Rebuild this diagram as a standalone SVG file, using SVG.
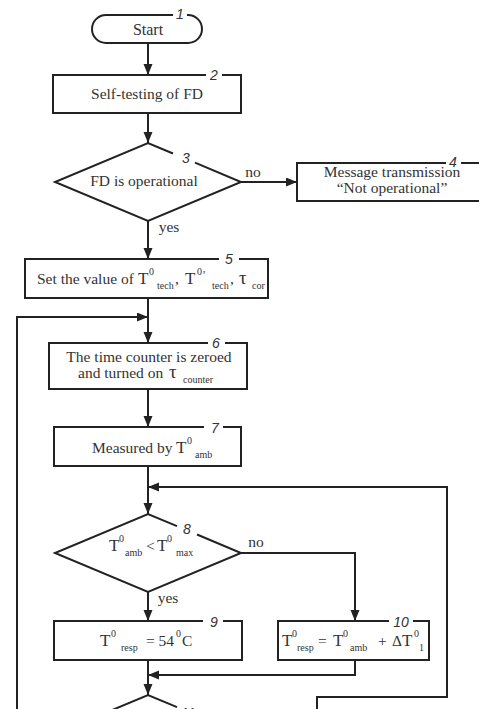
<svg xmlns="http://www.w3.org/2000/svg" width="479" height="709" viewBox="0 0 479 709">
<defs>
<style>
.ln{fill:none;stroke:#222;stroke-width:2}
.t{font-family:"Liberation Serif","Times New Roman",serif;font-size:15.5px;fill:#333}
.m{text-anchor:middle}
.n{font-family:"Liberation Sans",Arial,sans-serif;font-style:italic;font-size:14px;fill:#333;text-anchor:middle}
.b{font-size:17px}
.g{font-size:19px}
.s{font-size:10px}
</style>
<marker id="ah" markerWidth="12" markerHeight="10" refX="11" refY="4.5" orient="auto" markerUnits="userSpaceOnUse"><path d="M0,0 L11,4.5 L0,9 Z" fill="#222"/></marker>
</defs>
<rect width="479" height="709" fill="#fff"/>
<g id="connectors">
<path class="ln" d="M148,43 V75" marker-end="url(#ah)"/>
<path class="ln" d="M148,113 V143" marker-end="url(#ah)"/>
<path class="ln" d="M241,182 H297" marker-end="url(#ah)"/>
<path class="ln" d="M148,221 V259" marker-end="url(#ah)"/>
<path class="ln" d="M148,298 V343" marker-end="url(#ah)"/>
<path class="ln" d="M17,709 V317 H148" marker-end="url(#ah)"/>
<path class="ln" d="M148,389 V427" marker-end="url(#ah)"/>
<path class="ln" d="M148,466 V514" marker-end="url(#ah)"/>
<path class="ln" d="M317,709 V697 H447 V487 H148" marker-end="url(#ah)"/>
<path class="ln" d="M241,553 H355 V621" marker-end="url(#ah)"/>
<path class="ln" d="M148,592 V621" marker-end="url(#ah)"/>
<path class="ln" d="M355,660 V675 H148" marker-end="url(#ah)"/>
<path class="ln" d="M148,660 V695" marker-end="url(#ah)"/>
<text class="t m" x="253" y="177">no</text>
<text class="t m" x="169" y="232">yes</text>
<text class="t m" x="256" y="547">no</text>
<text class="t m" x="168" y="603">yes</text>
</g>
<g id="node1">
<path class="ln" d="M173,15 H106 A14,14 0 0 0 106,43 H188 A14,14 0 0 0 188,15 H187"/>
<text class="t m" x="148" y="35" style="font-size:16px">Start</text>
<text class="n" x="180" y="19">1</text>
</g>
<g id="node2">
<path class="ln" d="M206,75 H53 V113 H241 V75 H222"/>
<text class="t m" x="147" y="99">Self-testing of FD</text>
<text class="n" x="214" y="80">2</text>
</g>
<g id="node3">
<path class="ln" d="M173,153.5 L148,143 L55,182 L148,221 L241,182 L195,162.7"/>
<text class="t m" x="144" y="186">FD is operational</text>
<text class="n" x="186" y="163">3</text>
</g>
<g id="node4">
<path class="ln" d="M446,163 H297 V201 H485 M461,163 H485"/>
<text class="t m" x="392" y="177">Message transmission</text>
<text class="t m" x="392" y="193">“Not operational”</text>
<text class="n" x="453" y="167">4</text>
</g>
<g id="node5">
<path class="ln" d="M219,259 H25 V298 H268 V259 H239"/>
<text class="t" y="284"><tspan x="37">Set the value of</tspan><tspan class="b" x="138">T</tspan><tspan class="s" x="149" y="275">0</tspan><tspan class="s" x="157" y="289">tech</tspan><tspan x="175" y="284">,</tspan><tspan class="b" x="185">T</tspan><tspan class="s" x="197" y="275">0</tspan><tspan x="203" y="279" style="font-size:12px">'</tspan><tspan class="s" x="212" y="289">tech</tspan><tspan x="230" y="284">,</tspan><tspan class="g" x="239">τ</tspan><tspan class="s" x="252" y="289">cor</tspan></text>
<text class="n" x="229" y="264">5</text>
</g>
<g id="node6">
<path class="ln" d="M208,343 H49 V389 H247 V343 H225"/>
<text class="t m" x="149" y="362">The time counter is zeroed</text>
<text class="t" y="378"><tspan x="78">and turned on</tspan><tspan class="g" x="169">τ</tspan><tspan class="s" x="183" y="383">counter</tspan></text>
<text class="n" x="216" y="348">6</text>
</g>
<g id="node7">
<path class="ln" d="M204,427 H54 V466 H241 V427 H223"/>
<text class="t" y="453"><tspan x="92">Measured by</tspan><tspan class="b" x="176">T</tspan><tspan class="s" x="187" y="444">0</tspan><tspan class="s" x="195" y="458">amb</tspan></text>
<text class="n" x="215" y="433">7</text>
</g>
<g id="node8">
<path class="ln" d="M177,526.2 L148,514 L55,553 L148,592 L241,553 L197,534.5"/>
<text class="t" y="551"><tspan class="b" x="109">T</tspan><tspan class="s" x="119" y="542">0</tspan><tspan class="s" x="125" y="556">amb</tspan><tspan x="146" y="551">&lt;</tspan><tspan class="b" x="157">T</tspan><tspan class="s" x="167" y="542">0</tspan><tspan class="s" x="176" y="556">max</tspan></text>
<text class="n" x="187" y="534">8</text>
</g>
<g id="node9">
<path class="ln" d="M203,621 H54 V660 H242 V621 H223"/>
<text class="t" y="646"><tspan class="b" x="100">T</tspan><tspan class="s" x="111" y="637">0</tspan><tspan class="s" x="121" y="651">resp</tspan><tspan x="146" y="646">= 54</tspan><tspan class="s" x="176" y="637">0</tspan><tspan x="182" y="646">C</tspan></text>
<text class="n" x="214" y="627">9</text>
</g>
<g id="node10">
<path class="ln" d="M389,621 H278 V660 H429 V621 H413"/>
<text class="t" y="646"><tspan class="b" x="282">T</tspan><tspan class="s" x="292" y="637">0</tspan><tspan class="s" x="297" y="651">resp</tspan><tspan x="318" y="646">=</tspan><tspan class="b" x="333">T</tspan><tspan class="s" x="343" y="637">0</tspan><tspan class="s" x="350" y="651">amb</tspan><tspan x="378" y="646">+</tspan><tspan x="392">Δ</tspan><tspan class="b" x="402">T</tspan><tspan class="s" x="414" y="637">0</tspan><tspan class="s" x="419" y="651">1</tspan></text>
<text class="n" x="401" y="627">10</text>
</g>
<g id="node11">
<path class="ln" d="M177,707.2 L148,695 L55,734"/>
<text class="n" x="188" y="718">11</text>
</g>
</svg>
